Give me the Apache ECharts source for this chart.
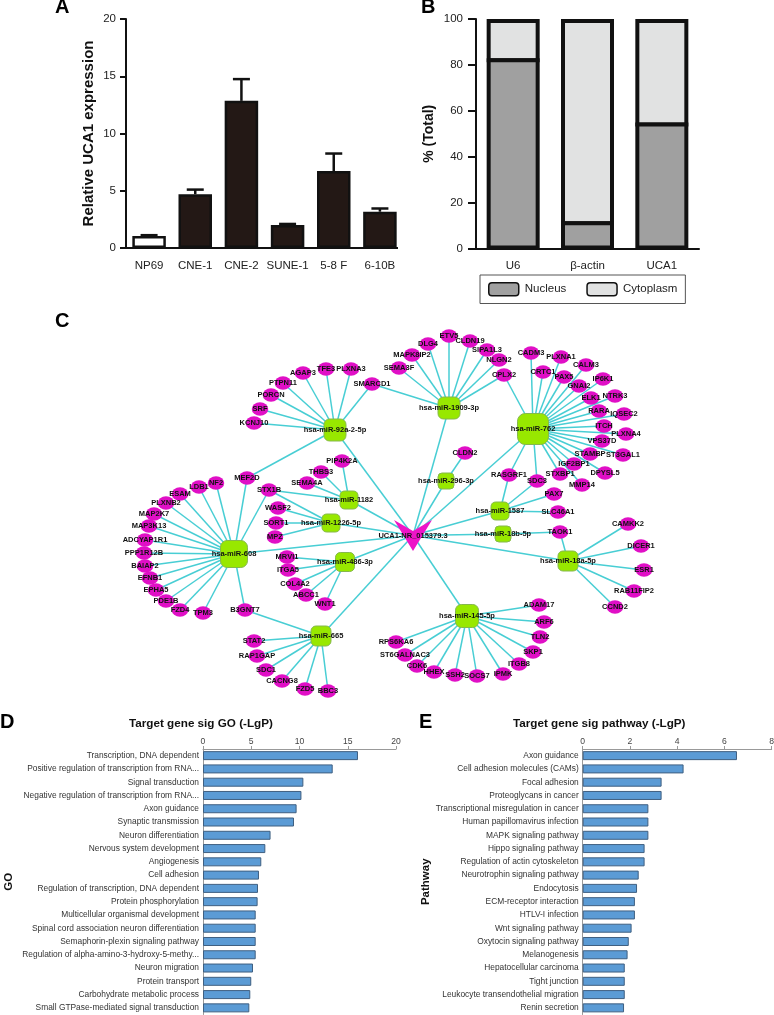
<!DOCTYPE html>
<html><head><meta charset="utf-8">
<style>html,body{margin:0;padding:0;background:#fff}#c{width:774px;height:1015px}</style>
<script src="https://cdn.jsdelivr.net/npm/echarts@6/dist/echarts.min.js"></script>
</head><body><div id="c"></div>
<script>
// ---- Panel A
const cellLines = ['NP69','CNE-1','CNE-2','SUNE-1','5-8 F','6-10B'];
const expression = [1.05,4.7,12.85,2.0,6.72,3.17];
const expressionErrTop = [1.12,5.1,14.75,2.1,8.25,3.45];
// ---- Panel B
const fractions = ['U6','β-actin','UCA1'];
const nucleus = [82,11,54];
const cytoplasm = [18,89,46];
// ---- Panel D
const goTerms = ['Transcription, DNA dependent','Positive regulation of transcription from RNA...','Signal transduction','Negative regulation of transcription from RNA...','Axon guidance','Synaptic transmission','Neuron differentiation','Nervous system development','Angiogenesis','Cell adhesion','Regulation of transcription, DNA dependent','Protein phosphorylation','Multicellular organismal development','Spinal cord association neuron differentiation','Semaphorin-plexin signaling pathway','Regulation of alpha-amino-3-hydroxy-5-methy...','Neuron migration','Protein transport','Carbohydrate metabolic process','Small GTPase-mediated signal transduction'];
const goValues = [16.06,13.44,10.4,10.2,9.7,9.43,7.0,6.46,6.04,5.8,5.7,5.66,5.46,5.46,5.46,5.46,5.18,5.0,4.9,4.8];
// ---- Panel E
const pathways = ['Axon guidance','Cell adhesion molecules (CAMs)','Focal adhesion','Proteoglycans in cancer','Transcriptional misregulation in cancer','Human papillomavirus infection','MAPK signaling pathway','Hippo signaling pathway','Regulation of actin cytoskeleton','Neurotrophin signaling pathway','Endocytosis','ECM-receptor interaction','HTLV-I infection','Wnt signaling pathway','Oxytocin signaling pathway','Melanogenesis','Hepatocellular carcinoma','Tight junction','Leukocyte transendothelial migration','Renin secretion'];
const pathwayValues = [6.53,4.27,3.34,3.34,2.78,2.78,2.78,2.62,2.62,2.37,2.3,2.21,2.21,2.07,1.95,1.9,1.78,1.78,1.78,1.75];
// ---- Panel C: network layout
const lncRna = ['UCA1-NR_015379.3',413,535.5];
const mirnas = [['hsa-miR-92a-2-5p',335,430],['hsa-miR-1909-3p',449,408],['hsa-miR-762',533,429],['hsa-miR-296-3p',446,481],['hsa-miR-1587',500,511],['hsa-miR-18b-5p',503,534],['hsa-miR-18a-5p',568,561],['hsa-miR-145-5p',467,616],['hsa-miR-1182',349,500],['hsa-miR-1226-5p',331,523],['hsa-miR-486-3p',345,562],['hsa-miR-608',234,554],['hsa-miR-665',321,636]];
const genes = [['KCNJ10',254,423],['SRF',260,409],['PORCN',271,395],['PTPN11',283,383],['AGAP3',303,373],['TFE3',326,369],['PLXNA3',351,369],['SMARCD1',372,384],['MEF2D',247,478],
['SEMA3F',399,368],['MAPK8IP2',412,355],['DLG4',428,344],['ETV5',449,336],['CLDN19',470,341],['SIPA1L3',487,350],['NLGN2',499,360],['CPLX2',504,375],
['CADM3',531,353],['PLXNA1',561,357],['CRTC1',543,372],['CALM3',586,365],['PAX5',564,377],['GNAI2',579,386],['IP6K1',603,379],['ELK1',591,398],['NTRK3',615,396],['RARA',599,411],['IQSEC2',624,414],['ITCH',604,426],['PLXNA4',626,434],['VPS37D',602,441],['STAMBP',590,454],['ST3GAL1',623,455],['IGF2BP1',574,464],['DPYSL5',605,473],['STXBP1',560,474],['MMP14',582,485],['RASGRF1',509,475],['SDC3',537,481],
['CLDN2',465,453],['PAX7',554,494],['SLC46A1',558,512],['TAOK1',560,532],
['CAMKK2',628,524],['DICER1',641,546],['ESR1',644,570],['RAB11FIP2',634,591],['CCND2',615,607],
['ADAM17',539,605],['ARF6',544,622],['TLN2',540,637],['SKP1',533,652],['ITGB8',519,664],['IPMK',503,674],['SOCS7',477,676],['SSH2',455,675],['HHEX',434,672],['CDK6',417,666],['ST6GALNAC3',405,655],['RPS6KA6',396,642],
['PIP4K2A',342,461],['THBS3',321,472],['SEMA4A',307,483],['STX1B',269,490],['WASF2',278,508],['SORT1',276,523],['MPZ',275,537],
['MRVI1',287,557],['ITGA5',288,570],['COL4A2',295,584],['ABCC1',306,595],['WNT1',325,604],
['NF2',216,483],['LDB1',199,487],['ESAM',180,494],['PLXNB2',166,503],['MAP2K7',154,514],['MAP3K13',149,526],['ADCYAP1R1',145,540],['PPP1R12B',144,553],['BAIAP2',145,566],['EFNB1',150,578],['EPHA5',156,590],['PDE1B',166,601],['FZD4',180,610],['TPM3',203,613],['B3GNT7',245,610],
['STAT2',254,641],['RAP1GAP',257,656],['SDC1',266,670],['CACNG8',282,681],['FZD5',305,689],['BBC3',328,691]];
const targets = {
 'hsa-miR-92a-2-5p':['KCNJ10','SRF','PORCN','PTPN11','AGAP3','TFE3','PLXNA3','SMARCD1','MEF2D'],
 'hsa-miR-1909-3p':['SMARCD1','SEMA3F','MAPK8IP2','DLG4','ETV5','CLDN19','SIPA1L3','NLGN2','CPLX2'],
 'hsa-miR-762':['CPLX2','CADM3','PLXNA1','CRTC1','CALM3','PAX5','GNAI2','IP6K1','ELK1','NTRK3','RARA','IQSEC2','ITCH','PLXNA4','VPS37D','STAMBP','ST3GAL1','IGF2BP1','DPYSL5','STXBP1','MMP14','RASGRF1','SDC3'],
 'hsa-miR-296-3p':['CLDN2'],
 'hsa-miR-1587':['RASGRF1','SDC3','PAX7','SLC46A1'],
 'hsa-miR-18b-5p':['TAOK1'],
 'hsa-miR-18a-5p':['TAOK1','CAMKK2','DICER1','ESR1','RAB11FIP2','CCND2'],
 'hsa-miR-145-5p':['ADAM17','ARF6','TLN2','SKP1','ITGB8','IPMK','SOCS7','SSH2','HHEX','CDK6','ST6GALNAC3','RPS6KA6'],
 'hsa-miR-1182':['PIP4K2A','THBS3','SEMA4A','STX1B'],
 'hsa-miR-1226-5p':['STX1B','WASF2','SORT1','MPZ'],
 'hsa-miR-486-3p':['MRVI1','ITGA5','COL4A2','ABCC1','WNT1'],
 'hsa-miR-608':['MEF2D','STX1B','NF2','LDB1','ESAM','PLXNB2','MAP2K7','MAP3K13','ADCYAP1R1','PPP1R12B','BAIAP2','EFNB1','EPHA5','PDE1B','FZD4','TPM3','B3GNT7'],
 'hsa-miR-665':['B3GNT7','STAT2','RAP1GAP','SDC1','CACNG8','FZD5','BBC3']
};
// ---- style tables
const hubSize = {'hsa-miR-92a-2-5p':22,'hsa-miR-1909-3p':22,'hsa-miR-762':31,'hsa-miR-296-3p':16,'hsa-miR-1587':18,'hsa-miR-18b-5p':16,'hsa-miR-18a-5p':20,'hsa-miR-145-5p':23,'hsa-miR-1182':18,'hsa-miR-1226-5p':18,'hsa-miR-486-3p':19,'hsa-miR-608':27,'hsa-miR-665':20};
const FONT = '"Liberation Sans", Arial, sans-serif';
const INK = '#111';
const ELLIPSE = 'path://M0,50 A50,50 0 1 1 100,50 A50,50 0 1 1 0,50 Z';

const nodeLabel = {show:true,position:'inside',color:'#111',fontSize:7.5,fontWeight:'bold',fontFamily:FONT};
const nodes = [
  {name:lncRna[0],value:[lncRna[1],lncRna[2]],symbol:'path://M0,0 L19,11 L38,0 L19,31 Z',symbolSize:[38,31],itemStyle:{color:'#ee14c8'},label:nodeLabel,z:3},
  ...mirnas.map(m=>({name:m[0],value:[m[1],m[2]],symbol:'roundRect',symbolSize:hubSize[m[0]],itemStyle:{color:'#98e800',borderColor:'#86b84c',borderWidth:1},label:nodeLabel})),
  ...genes.map(g=>({name:g[0],value:[g[1],g[2]],symbol:ELLIPSE,symbolSize:[16.5,13.5],itemStyle:{color:'#e00fc6'},label:nodeLabel}))
];
const links = [];
mirnas.forEach(m=>{ links.push({source:lncRna[0],target:m[0]}); });
Object.keys(targets).forEach(k=>targets[k].forEach(g=>links.push({source:k,target:g})));

const catAxisBase = {type:'category',axisLine:{lineStyle:{color:INK,width:2}},axisTick:{alignWithLabel:true,length:6,lineStyle:{color:INK,width:2}},axisLabel:{color:'#222',fontSize:11.5,interval:0,fontFamily:FONT}};
const valAxisBase = {type:'value',splitLine:{show:false},axisLine:{show:true,lineStyle:{color:INK,width:2}},axisTick:{show:true,lineStyle:{color:INK,width:2}},axisLabel:{color:'#222',fontSize:11.5,fontFamily:FONT}};
const hbarCat = {type:'category',inverse:true,axisLine:{lineStyle:{color:'#999',width:1}},axisTick:{show:false},axisLabel:{color:'#333',fontSize:8.4,margin:4,interval:0,fontFamily:FONT},nameLocation:'middle',nameTextStyle:{color:'#111',fontWeight:'bold',fontSize:11.5,fontFamily:FONT}};
const hbarVal = {type:'value',position:'top',splitLine:{show:false},axisLine:{show:true,lineStyle:{color:'#999',width:1}},axisTick:{show:true,length:3,lineStyle:{color:'#999'}},axisLabel:{color:'#444',fontSize:8.6,margin:3,fontFamily:FONT}};
const barH = {type:'bar',barWidth:9,itemStyle:{color:'#5b9bd5',borderColor:'#3f5f80',borderWidth:1}};

const letter = (t,l,tp)=>({text:t,left:l,top:tp,padding:0,textStyle:{fontSize:20,fontWeight:'bold',color:'#000',fontFamily:FONT}});
const heading = (t,l,tp)=>({text:t,left:l,top:tp,padding:0,textStyle:{fontSize:11.7,fontWeight:'bold',color:'#111',fontFamily:FONT}});

// stacked segment with a centred outline so that shared edges stay one line thick
const segment = (fill)=>(p,api)=>{
  const a=api.coord([api.value(0),api.value(1)]), b=api.coord([api.value(0),api.value(2)]);
  const half=24.5, top=api.value(2)>=100?b[1]+2:b[1], bottom=api.value(1)<=0?a[1]-1:a[1];
  return {type:'rect',shape:{x:a[0]-half,y:top,width:half*2,height:bottom-top},style:{fill:fill,stroke:INK,lineWidth:4}};
};

const option = {
  animation:false,
  backgroundColor:'#fff',
  textStyle:{fontFamily:FONT},
  title:[letter('A',55,-3),letter('B',421,-3),letter('C',55,311),letter('D',0,712),letter('E',419,712),
         heading('Target gene sig GO (-LgP)',129,718),heading('Target gene sig pathway (-LgP)',513,718)],
  grid:[
    {left:126,top:19,width:277,height:229,outerBoundsMode:'none'},
    {left:476,top:19,width:223,height:229.5,outerBoundsMode:'none'},
    {left:0,top:0,width:774,height:1015,outerBoundsMode:'none'},
    {left:203,top:749,width:193,height:265.5,outerBoundsMode:'none'},
    {left:582.7,top:749,width:189,height:265.5,outerBoundsMode:'none'}
  ],
  legend:{left:480,top:275,orient:'horizontal',padding:[7,8,7,8],itemGap:20,itemWidth:30,itemHeight:13,icon:'roundRect',
    borderColor:'#555',borderWidth:1,selectedMode:false,textStyle:{color:'#222',fontSize:11.5,fontFamily:FONT,padding:[0,0,0,1]},
    data:[{name:'Nucleus',itemStyle:{color:'#a0a0a0',borderColor:'#111',borderWidth:1.5}},{name:'Cytoplasm',itemStyle:{color:'#e1e2e2',borderColor:'#111',borderWidth:1.5}}]},
  xAxis:[
    {...catAxisBase,gridIndex:0,data:cellLines,axisLine:{show:false},axisLabel:{...catAxisBase.axisLabel,margin:12}},
    {...catAxisBase,gridIndex:1,data:fractions,axisLabel:{...catAxisBase.axisLabel,margin:11}},
    {type:'value',gridIndex:2,min:0,max:774,show:false},
    {...hbarVal,gridIndex:3,min:0,max:20,interval:5},
    {...hbarVal,gridIndex:4,min:0,max:8,interval:2}
  ],
  yAxis:[
    {...valAxisBase,gridIndex:0,min:0,max:20,interval:5,axisTick:{...valAxisBase.axisTick,length:6},axisLabel:{...valAxisBase.axisLabel,margin:10},name:'Relative UCA1 expression',nameLocation:'middle',nameGap:30,nameRotate:90,nameTextStyle:{fontSize:15,fontWeight:'bold',color:'#111',fontFamily:FONT}},
    {...valAxisBase,gridIndex:1,min:0,max:100,interval:20,axisTick:{...valAxisBase.axisTick,length:8},axisLabel:{...valAxisBase.axisLabel,margin:13},name:'% (Total)',nameLocation:'middle',nameGap:40,nameRotate:90,nameTextStyle:{fontSize:14,fontWeight:'bold',color:'#111',fontFamily:FONT}},
    {type:'value',gridIndex:2,min:0,max:1015,inverse:true,show:false},
    {...hbarCat,gridIndex:3,data:goTerms,name:'GO',nameGap:188.5,nameRotate:90},
    {...hbarCat,gridIndex:4,data:pathways,name:'Pathway',nameGap:148.5,nameRotate:90}
  ],
  series:[
    {type:'custom',xAxisIndex:0,yAxisIndex:0,z:1,data:cellLines.map((c,i)=>[i,expression[i],expressionErrTop[i]]),encode:{x:0,y:[1,2]},
     renderItem:(p,api)=>{
       const a=api.coord([api.value(0),api.value(1)]), b=api.coord([api.value(0),api.value(2)]);
       const st={stroke:INK,lineWidth:2.5};
       return {type:'group',children:[
         {type:'line',shape:{x1:a[0],y1:a[1],x2:b[0],y2:b[1]},style:st},
         {type:'line',shape:{x1:b[0]-8.5,y1:b[1],x2:b[0]+8.5,y2:b[1]},style:st}]};
     }},
    {type:'bar',xAxisIndex:0,yAxisIndex:0,z:2,barWidth:33.5,
     data:expression.map((v,i)=>({value:v,itemStyle:{color:i===0?'#fff':'#231815',borderColor:INK,borderWidth:2.5}})),
     markLine:{silent:true,symbol:'none',animation:false,label:{show:false},lineStyle:{color:INK,width:2,type:'solid'},
       data:[[{x:126,yAxis:0},{x:398,yAxis:0}]]}},
    {type:'custom',name:'Cytoplasm',xAxisIndex:1,yAxisIndex:1,z:2,encode:{x:0,y:[1,2]},
     data:fractions.map((f,i)=>[i,nucleus[i],nucleus[i]+cytoplasm[i]]),renderItem:segment('#e1e2e2')},
    {type:'custom',name:'Nucleus',xAxisIndex:1,yAxisIndex:1,z:3,encode:{x:0,y:[1,2]},
     data:fractions.map((f,i)=>[i,0,nucleus[i]]),renderItem:segment('#a0a0a0')},
    {type:'graph',coordinateSystem:'cartesian2d',xAxisIndex:2,yAxisIndex:2,layout:'none',roam:false,silent:true,data:nodes,links:links,
     lineStyle:{color:'#48ced4',width:1.5,opacity:1,curveness:0},labelLayout:{hideOverlap:false}},
    {...barH,xAxisIndex:3,yAxisIndex:3,data:goValues},
    {...barH,xAxisIndex:4,yAxisIndex:4,data:pathwayValues}
  ]
};
echarts.init(document.getElementById('c'),null,{renderer:'canvas'}).setOption(option);
</script></body></html>
